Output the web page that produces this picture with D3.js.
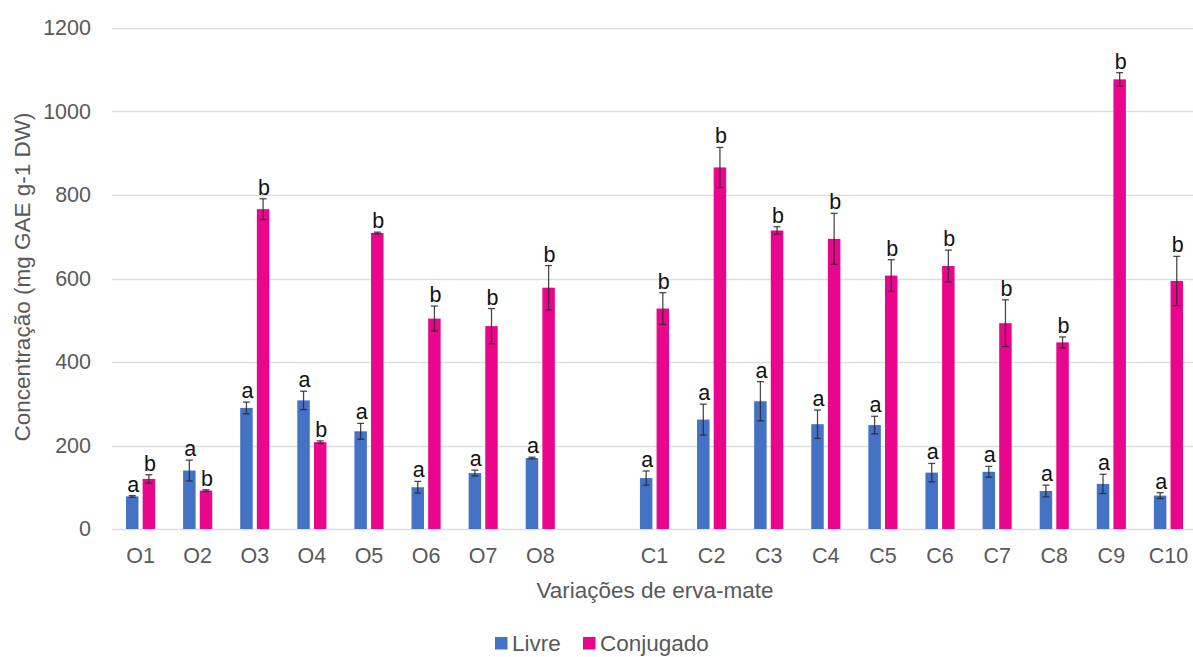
<!DOCTYPE html>
<html>
<head>
<meta charset="utf-8">
<script src="https://cdn.jsdelivr.net/npm/d3@7"></script>
<style>
  html, body { margin: 0; padding: 0; background: #fff; }
  svg { display: block; font-family: "Liberation Sans", Arial, sans-serif; }
</style>
</head>
<body>
<svg id="chart" width="1193" height="657"></svg>
<script>
// Phenolic concentration of erva-mate variations: free (Livre) vs bound (Conjugado)
const groupO = ["O1", "O2", "O3", "O4", "O5", "O6", "O7", "O8"];
const groupC = ["C1", "C2", "C3", "C4", "C5", "C6", "C7", "C8", "C9", "C10"];
const spacer = "__gap__";
const categories = [...groupO, ...groupC];

const livre     = [78, 140, 290, 308, 234, 100, 134, 170, 122, 262, 306, 251, 249, 135, 137, 91, 108, 80];
const livreErr  = [2, 25, 14, 22, 19, 14, 7, 2, 17, 37, 47, 34, 21, 22, 13, 14, 23, 7];
const conjugado = [120, 92, 766, 208, 709, 504, 486, 578, 528, 866, 715, 695, 607, 630, 493, 447, 1077, 594];
const conjErr   = [10, 2, 25, 3, 2, 30, 42, 53, 38, 48, 9, 61, 38, 38, 56, 13, 16, 59];
const livreLetters = ["a","a","a","a","a","a","a","a","a","a","a","a","a","a","a","a","a","a"];
const conjLetters  = ["b","b","b","b","b","b","b","b","b","b","b","b","b","b","b","b","b","b"];

const seriesNames = ["Livre", "Conjugado"];
const seriesColors = ["#4472C4", "#EA068C"];
const yTicks = [0, 200, 400, 600, 800, 1000, 1200];

const svg = d3.select("#chart");
const plotLeft = 112, plotRight = 1197, plotTop = 28, plotBottom = 529;

const x0 = d3.scaleBand()
  .domain([...groupO, spacer, ...groupC])
  .range([plotLeft, plotRight])
  .paddingInner(0.49)
  .paddingOuter(0.245);

const x1 = d3.scaleBand()
  .domain(seriesNames)
  .range([0, x0.bandwidth()])
  .paddingInner(0.25);

const y = d3.scaleLinear().domain([0, 1200]).range([plotBottom, plotTop]);

// gridlines
svg.append("g")
  .selectAll("line")
  .data(yTicks)
  .join("line")
  .attr("x1", plotLeft).attr("x2", 1193)
  .attr("y1", d => Math.round(y(d)) + 0.5).attr("y2", d => Math.round(y(d)) + 0.5)
  .attr("stroke", "#dedede").attr("stroke-width", 1.3);

// y axis labels
const yAxis = d3.axisLeft(y).tickValues(yTicks).tickFormat(d3.format("d")).tickSize(0).tickPadding(0);
const yG = svg.append("g").attr("transform", "translate(91,0)").call(yAxis);
yG.select(".domain").remove();
yG.selectAll("text")
  .attr("font-size", 21.5).attr("fill", "#595959")
  .attr("font-family", "Liberation Sans, Arial, sans-serif");

// x axis labels
const xAxis = d3.axisBottom(x0).tickSize(0).tickPadding(0)
  .tickFormat(d => d === spacer ? "" : d);
const xG = svg.append("g").attr("transform", `translate(0,${plotBottom + 19})`).call(xAxis);
xG.select(".domain").remove();
xG.selectAll("text")
  .attr("font-size", 21.5).attr("fill", "#595959")
  .attr("font-family", "Liberation Sans, Arial, sans-serif");

// build rows
const rows = categories.map((c, i) => ({
  cat: c,
  vals: [
    { s: "Livre", v: livre[i], e: livreErr[i], t: livreLetters[i], color: seriesColors[0] },
    { s: "Conjugado", v: conjugado[i], e: conjErr[i], t: conjLetters[i], color: seriesColors[1] }
  ]
}));

const groups = svg.append("g")
  .selectAll("g")
  .data(rows)
  .join("g")
  .attr("transform", d => `translate(${x0(d.cat)},0)`);

// bars
groups.selectAll("rect")
  .data(d => d.vals)
  .join("rect")
  .attr("x", d => x1(d.s))
  .attr("width", x1.bandwidth())
  .attr("y", d => y(d.v))
  .attr("height", d => y(0) - y(d.v))
  .attr("fill", d => d.color);

// error bars
const cap = 3.5;
const err = groups.selectAll("g.err")
  .data(d => d.vals)
  .join("g")
  .attr("class", "err")
  .attr("stroke", "#2a2a2a")
  .attr("stroke-width", 1.3)
  .attr("stroke-opacity", 0.85);

err.append("line")
  .attr("x1", d => x1(d.s) + x1.bandwidth() / 2)
  .attr("x2", d => x1(d.s) + x1.bandwidth() / 2)
  .attr("y1", d => y(d.v + d.e))
  .attr("y2", d => y(Math.max(0, d.v - d.e)));
err.append("line")
  .attr("x1", d => x1(d.s) + x1.bandwidth() / 2 - cap)
  .attr("x2", d => x1(d.s) + x1.bandwidth() / 2 + cap)
  .attr("y1", d => y(d.v + d.e))
  .attr("y2", d => y(d.v + d.e));
err.append("line")
  .attr("x1", d => x1(d.s) + x1.bandwidth() / 2 - cap)
  .attr("x2", d => x1(d.s) + x1.bandwidth() / 2 + cap)
  .attr("y1", d => y(Math.max(0, d.v - d.e)))
  .attr("y2", d => y(Math.max(0, d.v - d.e)));

// significance letters
groups.selectAll("text.sig")
  .data(d => d.vals)
  .join("text")
  .attr("class", "sig")
  .attr("x", d => x1(d.s) + x1.bandwidth() / 2 + 1)
  .attr("y", d => y(d.v + d.e) - 4)
  .attr("text-anchor", "middle")
  .attr("font-size", 21.5)
  .attr("fill", "#111")
  .text(d => d.t);

// axis titles
svg.append("text")
  .attr("transform", `translate(30,${(107 + 447) / 2}) rotate(-90)`)
  .attr("text-anchor", "middle")
  .attr("font-size", 22.5)
  .attr("fill", "#595959")
  .text("Concentração (mg GAE g-1 DW)");

svg.append("text")
  .attr("x", 655).attr("y", 598)
  .attr("text-anchor", "middle")
  .attr("font-size", 22.5)
  .attr("fill", "#595959")
  .text("Variações de erva-mate");

// legend
const legend = svg.append("g").attr("transform", "translate(495,637)");
const legendOffsets = [0, 88];
seriesNames.forEach((name, i) => {
  const g = legend.append("g").attr("transform", `translate(${legendOffsets[i]},0)`);
  g.append("rect").attr("width", 12.5).attr("height", 12.5).attr("y", 0).attr("fill", seriesColors[i]);
  g.append("text").attr("x", 17).attr("y", 14)
    .attr("font-size", 22.5).attr("fill", "#595959").text(name);
});
</script>
</body>
</html>
